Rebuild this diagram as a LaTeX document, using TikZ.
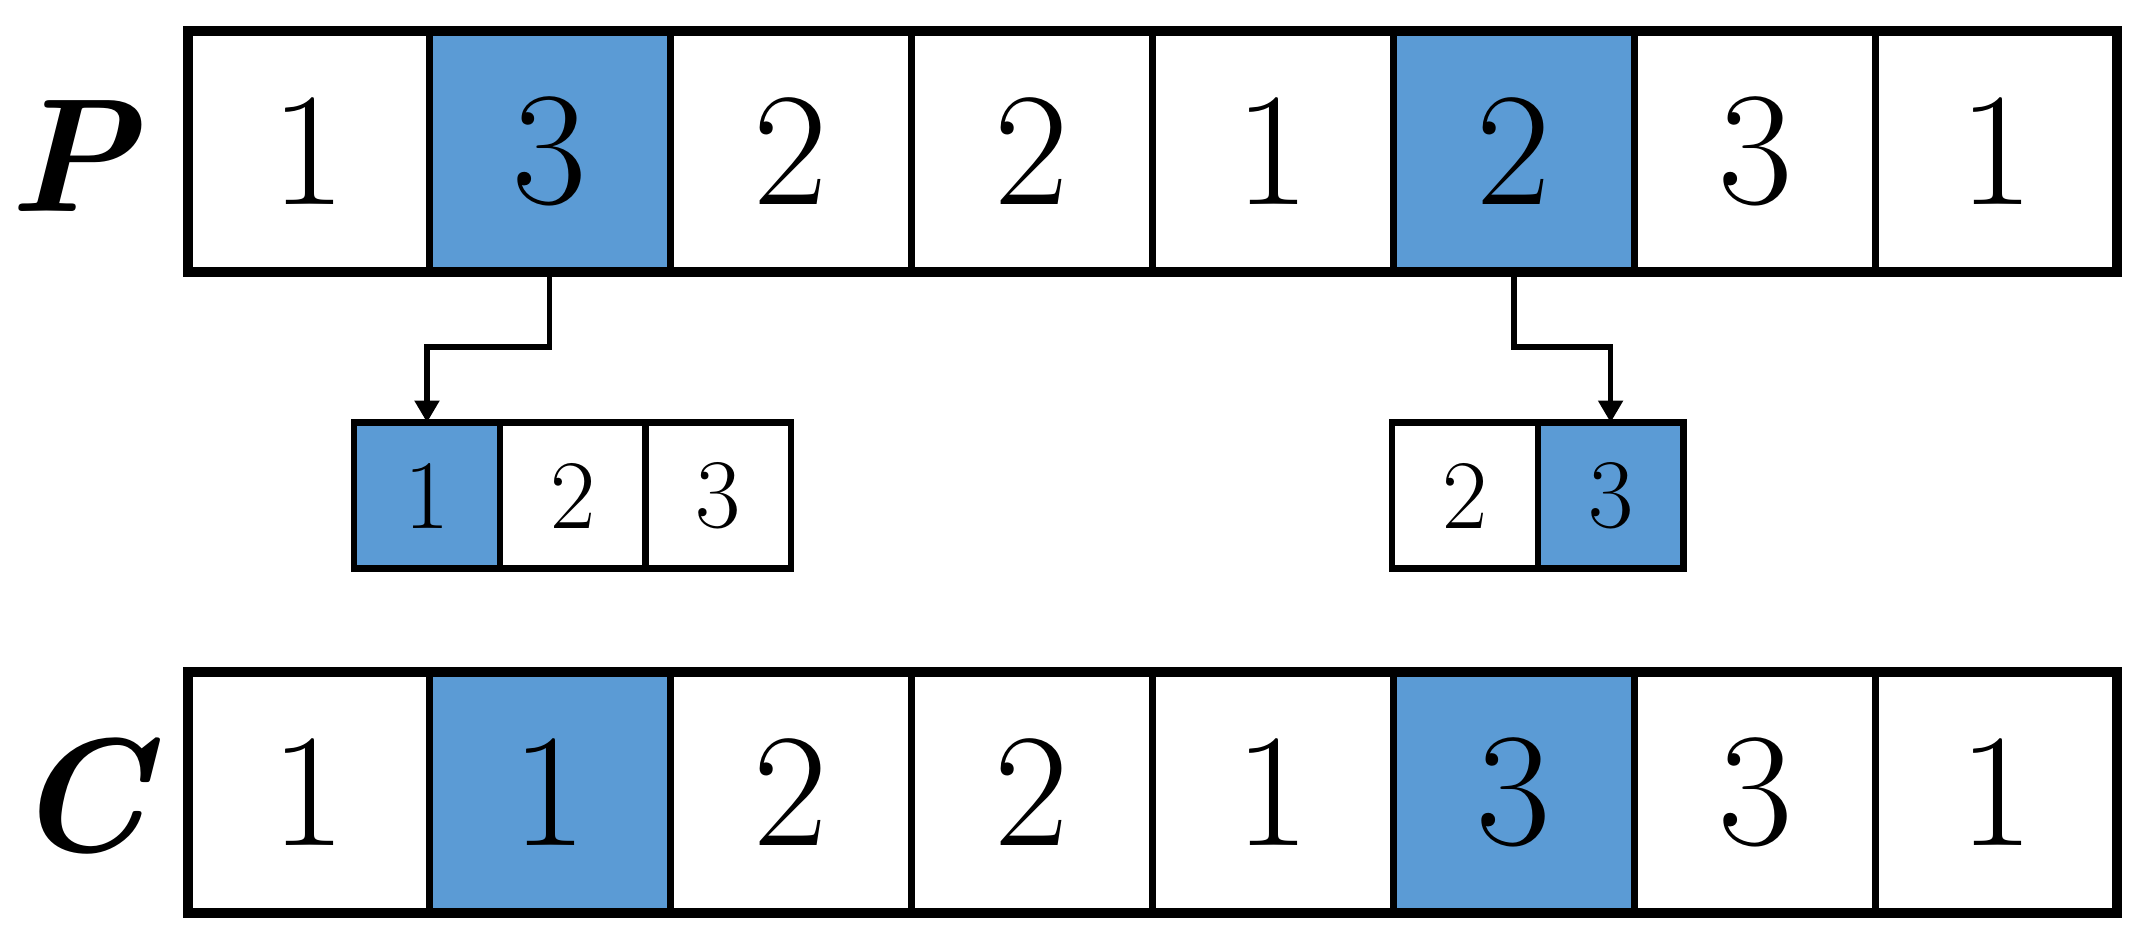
\documentclass[tikz,border=0pt]{standalone}
\usetikzlibrary{arrows.meta}
\definecolor{cellblue}{HTML}{5B9BD5}
\tikzset{
  bigcell/.style={draw=black, line width=2pt, fill=white, inner sep=0pt, outer sep=0pt,
    minimum width=2.411cm, minimum height=2.41cm, font=\fontsize{46}{46}\selectfont},
  smallcell/.style={draw=black, line width=1.8pt, fill=white, inner sep=0pt, outer sep=0pt,
    minimum width=1.456cm, minimum height=1.46cm, font=\fontsize{28}{28}\selectfont},
  hl/.style={fill=cellblue},
  rowframe/.style={draw=black, line width=2.8pt},
  conn/.style={draw=black, line width=1.5pt, -{Triangle[width=0.24cm,length=0.22cm]}},
  rowlabel/.style={anchor=base, inner sep=0pt, font=\fontsize{46}{46}\selectfont\bfseries\itshape}
}
\begin{document}
\begin{tikzpicture}
\useasboundingbox (0,0) rectangle (21.49,-9.38);
% P row
\foreach \i/\v/\s in {1/1/,2/3/hl,3/2/,4/2/,5/1/,6/2/hl,7/3/,8/1/} {
  \node[bigcell,\s] (p\i) at ({1.88+2.411*(\i-0.5)},-1.515) {\v};
}
\draw[rowframe] (p1.north west) rectangle (p8.south east);
\node[rowlabel] (lp) at (0.72,-2.11) {P};
% C row
\foreach \i/\v/\s in {1/1/,2/1/hl,3/2/,4/2/,5/1/,6/3/hl,7/3/,8/1/} {
  \node[bigcell,\s] (c\i) at ({1.88+2.411*(\i-0.5)},-7.925) {\v};
}
\draw[rowframe] (c1.north west) rectangle (c8.south east);
\node[rowlabel] (lc) at (0.80,-8.51) {C};
% small boxes left
\node[smallcell,hl] (s1) at (4.27,-4.955) {1};
\node[smallcell] (s2) at (5.726,-4.955) {2};
\node[smallcell] (s3) at (7.182,-4.955) {3};
% small boxes right
\node[smallcell] (r1) at (14.65,-4.955) {2};
\node[smallcell,hl] (r2) at (16.106,-4.955) {3};
% connectors
\coordinate (e) at (0,-3.47);
\draw[conn] (p2.south) -- (p2.south |- e) -| (s1.north);
\draw[conn] (p6.south) -- (p6.south |- e) -| (r2.north);
\end{tikzpicture}
\end{document}
